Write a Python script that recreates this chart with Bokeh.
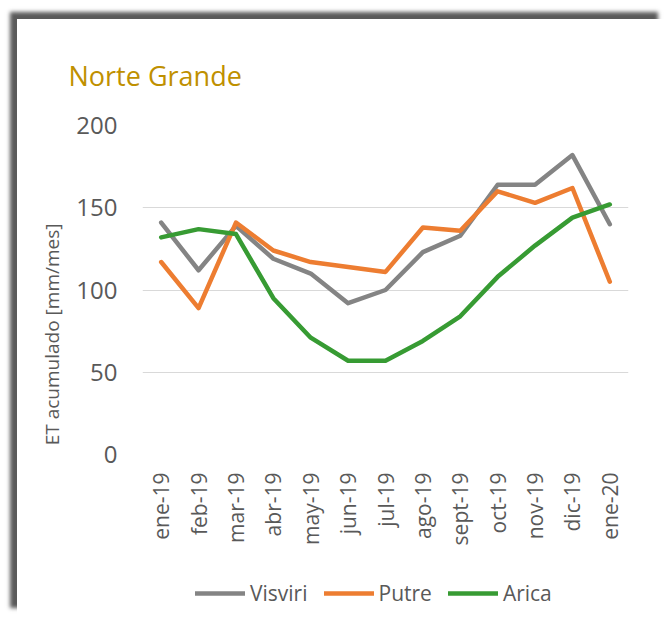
import math
from bokeh.plotting import figure
from bokeh.models import FactorRange, Range1d, FixedTicker, Legend, LegendItem
from bokeh.layouts import column
from bokeh.embed import file_html
from bokeh.resources import INLINE

# ---- data ----
months = ["ene-19", "feb-19", "mar-19", "abr-19", "may-19", "jun-19", "jul-19",
          "ago-19", "sept-19", "oct-19", "nov-19", "dic-19", "ene-20"]
visviri = [141, 112, 139, 119, 110, 92, 100, 123, 133, 164, 164, 182, 140]
putre = [117, 89, 141, 124, 117, 114, 111, 138, 136, 160, 153, 162, 105]
arica = [132, 137, 134, 95, 71, 57, 57, 69, 84, 108, 127, 144, 152]
y_ticks = [0, 50, 100, 150, 200]
series_names = ["Visviri", "Putre", "Arica"]
series_colors = ["#848484", "#ED7D31", "#379B33"]

FONT = "Open Sans"
TXT = "#595959"

p = figure(x_range=FactorRange(*months, range_padding=0), y_range=Range1d(0, 200),
           frame_width=486, frame_height=329, output_backend="svg", toolbar_location=None,
           min_border_left=125, min_border_right=37, min_border_top=106,
           min_border_bottom=115)
p.outline_line_color = None
p.background_fill_color = "white"
p.border_fill_color = "white"

# title
p.title.text = "Norte Grande"
p.title.text_font = FONT
p.title.text_font_size = "27px"
p.title.text_font_style = "normal"
p.title.text_color = "#BF9000"
p.title.align = "left"
p.title.offset = -74
p.title.standoff = 64

# grids
p.xgrid.grid_line_color = None
p.ygrid.grid_line_color = "#D9D9D9"
p.ygrid.grid_line_width = 1

# y axis
p.yaxis.ticker = FixedTicker(ticks=y_ticks)
p.yaxis.axis_line_color = None
p.yaxis.major_tick_line_color = None
p.yaxis.minor_tick_line_color = None
p.yaxis.major_tick_out = 0
p.yaxis.major_label_standoff = 25
p.yaxis.major_label_text_font = FONT
p.yaxis.major_label_text_font_size = "24px"
p.yaxis.major_label_text_color = TXT
p.yaxis.axis_label = "ET acumulado [mm/mes]" + "\u00a0" * 18
p.yaxis.axis_label_text_font = FONT
p.yaxis.axis_label_text_font_size = "19px"
p.yaxis.axis_label_text_font_style = "normal"
p.yaxis.axis_label_text_color = TXT
p.yaxis.axis_label_standoff = 8

# x axis
p.xaxis.axis_line_color = None
p.xaxis.major_tick_line_color = None
p.xaxis.major_tick_out = 0
p.xaxis.major_label_orientation = math.pi / 2
p.xaxis.major_label_standoff = 18
p.xaxis.major_label_text_font = FONT
p.xaxis.major_label_text_font_size = "21px"
p.xaxis.major_label_text_color = TXT

all_series = [visviri, putre, arica]
for name, vals, col in zip(series_names, all_series, series_colors):
    p.line(months, vals, line_color=col, line_width=4.5,
           line_join="round", line_cap="round")

# legend strip below the chart (its series lie outside its tiny y range)
lg = figure(width=648, height=46, x_range=p.x_range, y_range=Range1d(0, 1),
            x_axis_type=None, y_axis_type=None, output_backend="svg",
            toolbar_location=None, min_border=0)
lg.outline_line_color = None
lg.grid.grid_line_color = None
lg.border_fill_color = "white"
lg.background_fill_color = "white"
items = []
for name, vals, col in zip(series_names, all_series, series_colors):
    r = lg.line(months, vals, line_color=col, line_width=4.5, line_cap="round")
    items.append(LegendItem(label=name, renderers=[r]))
legend = Legend(items=items, orientation="horizontal", location=(53, 8))
legend.padding = 0
legend.margin = 0
legend.spacing = 16
legend.glyph_width = 50
legend.glyph_height = 20
legend.label_standoff = 5
legend.label_text_font = FONT
legend.label_text_font_size = "21px"
legend.label_text_color = TXT
legend.border_line_color = None
legend.background_fill_alpha = 0
lg.add_layout(legend, "center")

layout = column(p, lg, spacing=0)
layout.margin = (19, 0, 0, 17)
layout.styles = {"background-color": "white",
                 "box-shadow": "-7px -7px 4px #5a5a5a"}

open("out.html", "w").write(file_html(layout, INLINE))
